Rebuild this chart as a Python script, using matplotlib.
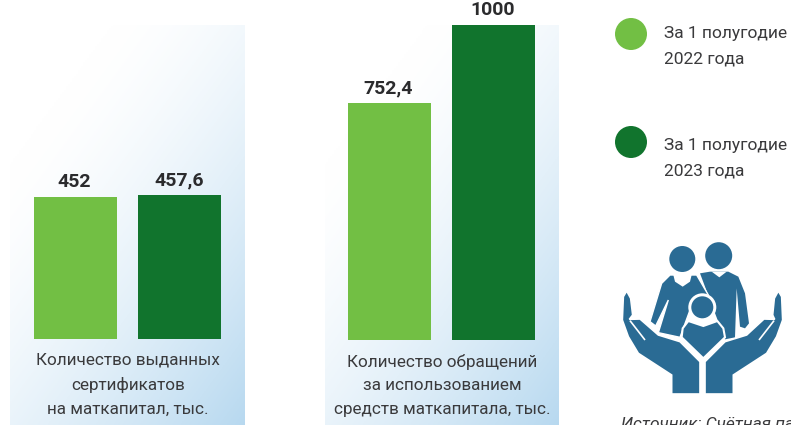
import matplotlib
matplotlib.use('Agg')
import matplotlib.pyplot as plt
import numpy as np
from matplotlib.patches import Circle, Polygon, PathPatch
from matplotlib.path import Path

W, H = 791, 425

groups = ['Количество выданных\nсертификатов\nна маткапитал, тыс.',
          'Количество обращений\nза использованием\nсредств маткапитала, тыс.']
values_2022 = [452, 752.4]
values_2023 = [457.6, 1000]
labels_2022 = ['452', '752,4']
labels_2023 = ['457,6', '1000']
legend_labels = ['За 1 полугодие\n2022 года', 'За 1 полугодие\n2023 года']

light = '#72BF44'
dark = '#11742D'
blue = '#2A6B94'
text_col = '#3A3A3C'

plt.rcParams['font.family'] = ['Roboto', 'DejaVu Sans']

fig = plt.figure(figsize=(W / 100, H / 100), dpi=100)


def px_axes(x0, y0, x1, y1):
    # position given in picture pixels, y going down
    return fig.add_axes([x0 / W, 1 - y1 / H, (x1 - x0) / W, (y1 - y0) / H])


# background gradient, white top left to blue bottom right
yy, xx = np.mgrid[0:1:200j, 0:1:120j]
t = np.clip((xx * 0.8 + yy - 0.35) / 1.45, 0, 1) ** 1.5
grad = np.ones((200, 120, 3))
for c, end in enumerate([0.72, 0.85, 0.94]):
    grad[..., c] = 1 + (end - 1) * t

panels = [(10, 245, 339), (325, 559, 340)]
bar_x = [(34, 138), (348, 452)]
scale = 0.3148  # px per unit
gap = 10 / scale

for i, (x0, x1, base) in enumerate(panels):
    ax = px_axes(x0, 25, x1, H)
    ax.set_xlim(x0, x1)
    ylim = (-(H - base) / scale, (base - 25) / scale)
    ax.set_ylim(*ylim)
    ax.imshow(grad, extent=[x0, x1, ylim[0], ylim[1]], aspect='auto', zorder=0)
    ax.bar(bar_x[i][0], values_2022[i], width=83, align='edge', color=light, zorder=2)
    ax.bar(bar_x[i][1], values_2023[i], width=83, align='edge', color=dark, zorder=2)
    ax.text(bar_x[i][0] + 40, values_2022[i] + gap, labels_2022[i], ha='center', va='baseline',
            fontsize=14, fontweight='bold', color='#2B2B2D', clip_on=False)
    ax.text(bar_x[i][1] + 41, values_2023[i] + gap, labels_2023[i], ha='center', va='baseline',
            fontsize=14, fontweight='bold', color='#2B2B2D', clip_on=False)
    ax.text((x0 + x1) / 2 + 0.5, -13.5 / scale, groups[i], ha='center', va='top',
            fontsize=12.35, color=text_col, linespacing=1.74)
    ax.axis('off')

# overlay in pixel coordinates for legend and icon
ov = fig.add_axes([0, 0, 1, 1], zorder=5)
ov.set_xlim(0, W)
ov.set_ylim(H, 0)
ov.axis('off')

for y, ty, col, lab in zip([34, 142], [46, 158], [light, dark], legend_labels):
    ov.add_patch(Circle((631, y), 16, color=col, lw=0))
    ov.text(664, ty, lab, va='center', ha='left', fontsize=12.5, color=text_col, linespacing=1.85)


def z(pts):
    return [(590 + x / 3, 220 + y / 3) for x, y in pts]


man = [(330, 160), (360, 155), (415, 155), (445, 170), (465, 220), (477, 310), (465, 325), (450, 320),
       (440, 205), (435, 352), (405, 358), (360, 240)]
woman = [(240, 165), (320, 165), (355, 225), (300, 270), (270, 352), (205, 338), (235, 240), (197, 318),
         (180, 305), (215, 190)]
neck_w = [(250, 165), (305, 165), (300, 185), (278, 200), (255, 185)]
neck_m = [(365, 155), (410, 155), (388, 172)]
child = [(275, 352), (278, 325), (295, 303), (340, 318), (382, 303), (400, 325), (405, 352), (340, 415)]
left_hand = [(118, 298), (150, 297), (205, 345), (270, 365), (330, 425), (330, 522), (245, 522), (245, 465),
             (145, 400), (115, 350), (97, 300), (100, 230), (110, 213), (122, 235), (128, 285)]
right_hand = [(554, 298), (522, 297), (470, 345), (405, 365), (345, 425), (345, 522), (430, 522), (430, 465),
              (530, 400), (560, 350), (578, 300), (575, 230), (565, 213), (553, 235), (548, 285)]
thumb_l = [(120, 302), (165, 360)]
thumb_r = [(552, 302), (507, 360)]

ov.add_patch(Circle((682.3, 259), 13, color=blue, lw=0))
ov.add_patch(Circle((718.7, 255.7), 13.5, color=blue, lw=0))
ov.add_patch(Polygon(z(man), fc=blue, ec='none'))
ov.add_patch(Polygon(z(woman), fc=blue, ec='white', lw=1))
ov.add_patch(Polygon(z(neck_w), fc='white', ec='none'))
ov.add_patch(Polygon(z(neck_m), fc='white', ec='none'))
ov.add_patch(Polygon(z(child), fc=blue, ec='white', lw=1.5))
ov.add_patch(Circle((702.3, 307.3), 14, color='white', lw=0))
ov.add_patch(Circle((702.3, 307.3), 11, color=blue, lw=0))
ov.add_patch(Polygon(z(left_hand), fc=blue, ec='white', lw=1.2))
ov.add_patch(Polygon(z(right_hand), fc=blue, ec='white', lw=1.2))
ov.add_patch(PathPatch(Path(z(thumb_l)), ec='white', lw=1.2))
ov.add_patch(PathPatch(Path(z(thumb_r)), ec='white', lw=1.2))

ov.text(621, 417, 'Источник: Счётная палата', ha='left', va='top', fontsize=12.5, style='italic',
        color=text_col)

fig.savefig('out.png', dpi=100)
